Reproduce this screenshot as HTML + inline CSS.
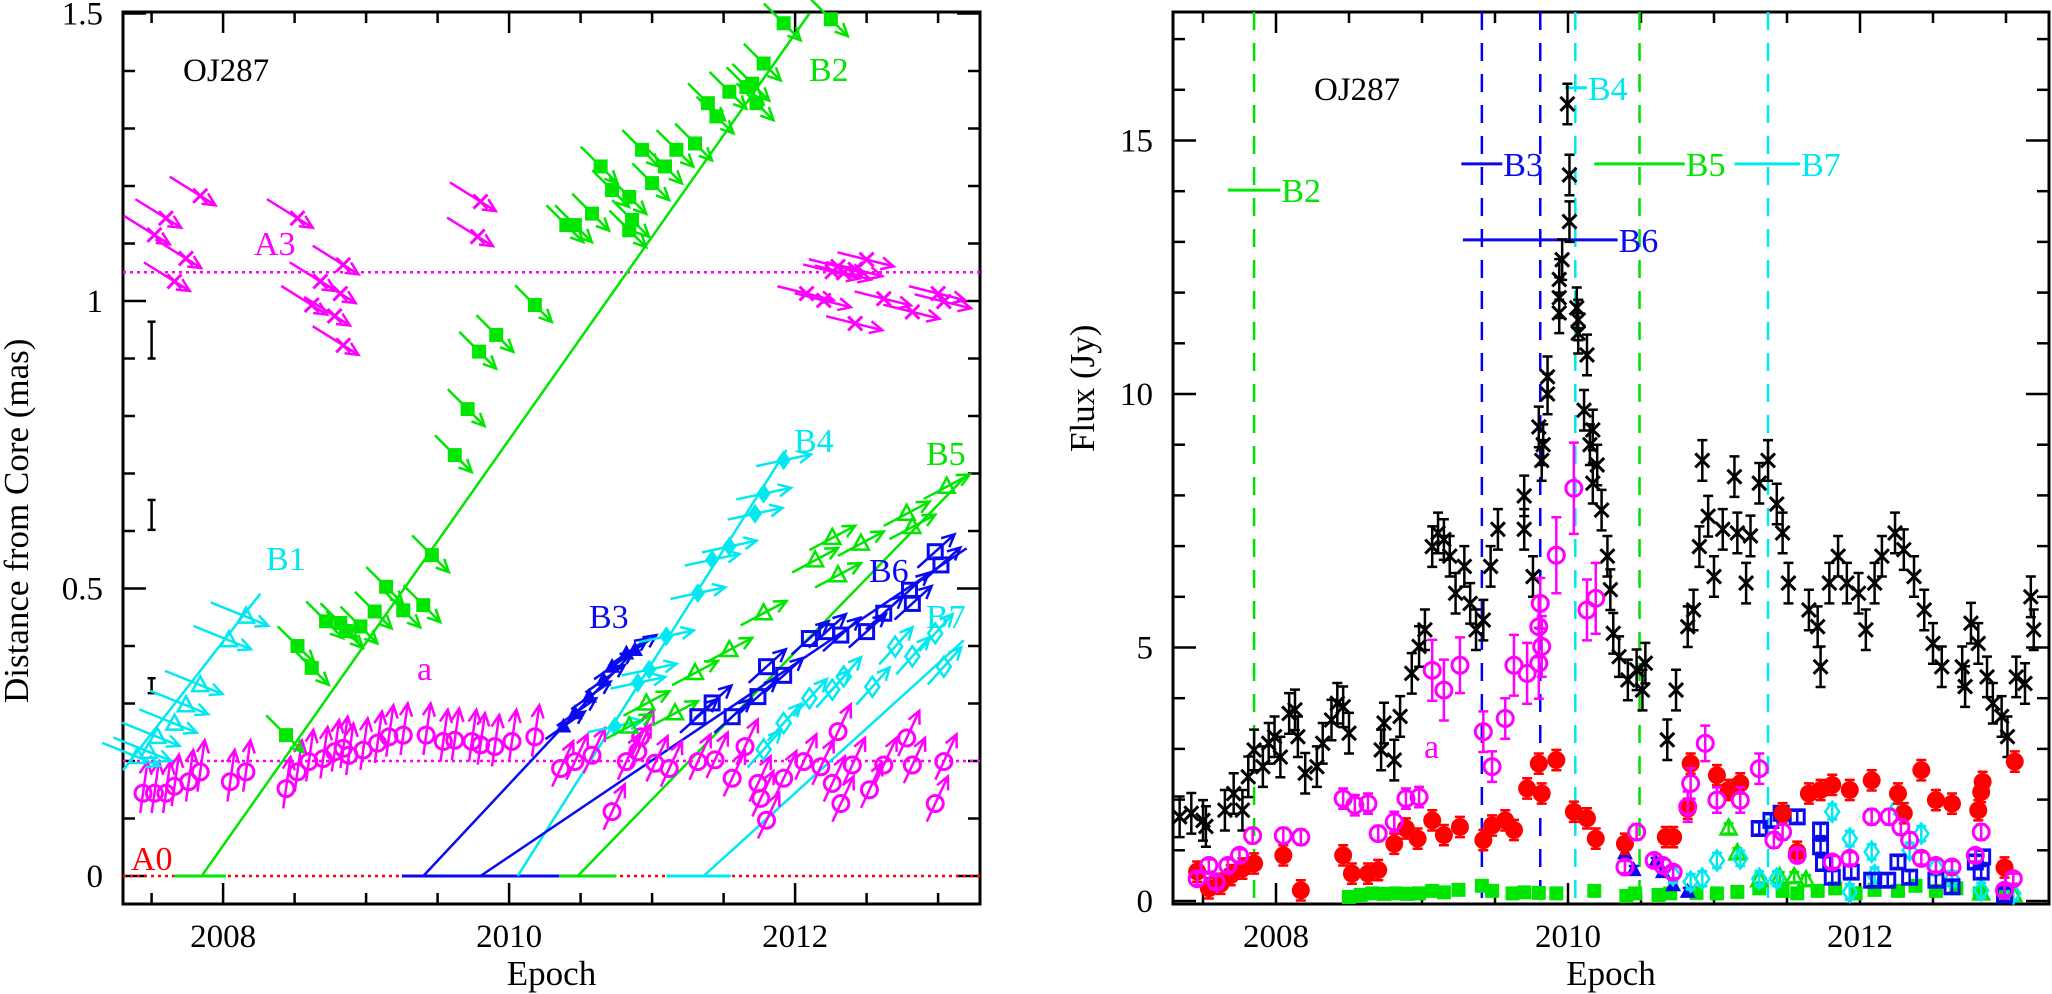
<!DOCTYPE html>
<html><head><meta charset="utf-8"><style>
html,body{margin:0;padding:0;background:#fff;}
svg{display:block;font-family:"Liberation Serif",serif;}
</style></head><body>
<svg id="fig" width="2052" height="994" viewBox="0 0 2052 994" xmlns="http://www.w3.org/2000/svg">
<rect x="0" y="0" width="2052" height="994" fill="#fff"/>
<g id="left"></g>
<g id="right"></g>
</svg>
<script>
// ---------- LEFT PANEL DATA (epoch, distance mas) ----------
const A3a_t=[2007.84,2007.60,2007.52,2007.74,2007.66,2008.52,2008.84,2008.68,2008.82,2008.62,2008.78,2008.84,2009.80,2009.78];
const A3a_d=[1.183,1.144,1.115,1.074,1.034,1.144,1.063,1.034,1.013,0.993,0.974,0.923,1.173,1.112];
const A3b_t=[2012.30,2012.34,2012.42,2012.50,2012.26,2012.08,2012.20,2012.62,2012.82,2013.00,2013.04,2012.42];
const A3b_d=[1.060,1.049,1.055,1.072,1.051,1.013,1.001,1.004,0.981,1.013,0.999,0.961];
const B2_t=[2012.25,2011.92,2011.78,2011.70,2011.66,2011.54,2011.73,2011.39,2011.45,2011.30,2011.17,2010.93,2011.09,2010.64,2011.00,2010.72,2010.84,2010.58,2010.40,2010.46,2010.86,2010.84,2010.18,2009.91,2009.79,2009.71,2009.62,2009.46,2009.14,2009.06,2009.26,2009.40,2008.96,2008.82,2008.72,2008.86,2008.52,2008.62,2008.44];
const B2_d=[1.49,1.483,1.413,1.378,1.372,1.364,1.344,1.344,1.321,1.274,1.263,1.263,1.234,1.234,1.205,1.193,1.181,1.152,1.132,1.132,1.141,1.123,0.993,0.941,0.912,0.812,0.732,0.558,0.503,0.460,0.462,0.471,0.434,0.440,0.443,0.426,0.400,0.362,0.245];
const B1_t=[2008.16,2008.04,2007.84,2007.74,2007.66,2007.54,2007.48,2007.40];
const B1_d=[0.451,0.410,0.332,0.297,0.265,0.242,0.216,0.207];
const aE_t=[2007.44,2007.52,2007.60,2007.66,2007.76,2007.84,2008.05,2008.16,2008.44,2008.52,2008.60,2008.70,2008.78,2008.84,2008.88,2008.98,2009.08,2009.16,2009.26,2009.42,2009.54,2009.62,2009.74,2009.80,2009.90,2010.02,2010.18];
const aE_d=[0.144,0.144,0.144,0.156,0.164,0.181,0.164,0.181,0.152,0.181,0.199,0.204,0.216,0.222,0.210,0.219,0.231,0.242,0.245,0.245,0.234,0.236,0.234,0.228,0.225,0.234,0.242];
const aL_t=[2010.36,2010.46,2010.58,2010.72,2010.82,2010.90,2010.92,2011.02,2011.12,2011.32,2011.44,2011.56,2011.65,2011.74,2011.76,2011.80,2011.92,2012.06,2012.18,2012.26,2012.30,2012.32,2012.40,2012.52,2012.62,2012.78,2012.82,2012.98,2013.04];
const aL_d=[0.187,0.199,0.210,0.112,0.199,0.216,0.242,0.196,0.187,0.199,0.202,0.170,0.225,0.161,0.135,0.097,0.170,0.199,0.190,0.161,0.251,0.126,0.193,0.150,0.193,0.240,0.193,0.126,0.199];
const B3_t=[2010.38,2010.46,2010.56,2010.66,2010.72,2010.82,2010.88];
const B3_d=[0.260,0.283,0.312,0.341,0.364,0.387,0.393];
const B4_t=[2011.92,2011.78,2011.72,2011.54,2011.42,2011.32,2011.10,2010.98,2010.90,2010.74];
const B4_d=[0.723,0.665,0.630,0.573,0.550,0.492,0.417,0.359,0.336,0.260];
const B5_t=[2013.06,2012.78,2012.82,2012.46,2012.26,2012.14,2012.30,2011.78,2011.54,2011.30,2011.16,2010.96,2010.84];
const B5_d=[0.677,0.630,0.607,0.578,0.588,0.549,0.523,0.457,0.393,0.353,0.283,0.30,0.26];
const B6_t=[2013.02,2012.98,2012.80,2012.82,2012.62,2012.50,2012.32,2012.22,2012.10,2011.92,2011.80,2011.74,2011.56,2011.42,2011.32];
const B6_d=[0.541,0.564,0.497,0.474,0.457,0.425,0.419,0.425,0.413,0.349,0.364,0.312,0.277,0.301,0.277];
const B7_t=[2013.04,2012.98,2012.82,2012.70,2012.54,2012.34,2012.26,2012.10,2011.92,2011.78];
const B7_d=[0.364,0.422,0.382,0.399,0.329,0.347,0.324,0.309,0.266,0.220];
const fitNames=['B1','B2','B3','B4','B5','B6','B7'];
const fitT0=[2007.30,2007.85,2009.40,2010.06,2010.48,2009.80,2011.36];
const fitD0=[0.184,0,0,0,0,0,0];
const fitT1=[2008.26,2012.10,2010.92,2011.94,2013.20,2013.20,2013.18];
const fitD1=[0.491,1.50,0.404,0.741,0.697,0.570,0.410];
const zeroSegT0=[2007.66,2009.25,2010.35,2011.10];
const zeroSegT1=[2008.02,2010.35,2010.75,2011.55];
const errBarT=[2007.5,2007.5,2007.5];
const errBarLo=[0.900,0.602,0.318];
const errBarHi=[0.964,0.654,0.344];
const leftYTicks=['0','0.5','1','1.5'];
const xTickLabels=['2008','2010','2012'];

// ---------- RIGHT PANEL DATA (epoch, flux Jy) ----------
const blkT=[2007.34,2007.42,2007.50,2007.52,2007.65,2007.71,2007.77,2007.81,2007.85,2007.91,2007.95,2007.99,2008.03,2008.09,2008.13,2008.15,2008.20,2008.28,2008.32,2008.38,2008.42,2008.46,2008.50,2008.72,2008.74,2008.81,2008.85,2008.93,2008.98,2009.02,2009.07,2009.11,2009.15,2009.19,2009.23,2009.29,2009.33,2009.37,2009.42,2009.47,2009.52,2009.70,2009.76,2009.70,2009.80,2009.82,2009.83,2009.86,2009.86,2009.94,2009.94,2009.94,2009.96,2009.996,2010.01,2010.01,2010.06,2010.07,2010.07,2010.11,2010.13,2010.15,2010.17,2010.17,2010.20,2010.23,2010.27,2010.29,2010.31,2010.35,2010.41,2010.47,2010.51,2010.53,2010.68,2010.74,2010.82,2010.86,2010.90,2010.92,2010.96,2011.00,2011.06,2011.14,2011.16,2011.22,2011.25,2011.31,2011.37,2011.43,2011.47,2011.51,2011.65,2011.71,2011.73,2011.79,2011.85,2011.91,2011.99,2012.04,2012.10,2012.15,2012.24,2012.30,2012.37,2012.44,2012.50,2012.56,2012.70,2012.72,2012.76,2012.81,2012.87,2012.91,2012.97,2013.01,2013.07,2013.13,2013.17,2013.19];
const blkF=[1.66,1.73,1.59,1.47,1.79,2.12,1.79,2.45,2.98,2.65,3.11,3.24,2.84,3.70,3.77,3.24,2.52,2.65,3.11,3.57,3.90,3.83,3.31,2.98,3.51,2.78,3.64,4.49,5.02,5.35,6.99,7.26,7.13,6.80,6.07,6.60,5.87,5.35,5.54,6.60,7.33,7.33,6.40,7.99,9.35,8.69,9.0,10.34,10.0,12.26,11.9,11.6,12.65,15.72,14.32,13.4,11.7,11.46,11.2,9.68,10.77,9.0,9.29,8.24,8.6,7.71,6.80,6.14,5.28,4.82,4.36,4.56,4.16,4.69,3.18,4.16,5.41,5.74,6.99,8.69,7.59,6.40,7.33,8.37,7.26,6.27,7.20,8.24,8.69,7.83,7.26,6.27,5.74,5.41,4.62,6.27,6.80,6.27,6.07,5.35,6.27,6.80,7.26,6.93,6.40,5.74,5.08,4.62,4.62,4.23,5.48,5.08,4.42,3.90,3.64,3.24,4.42,4.29,6.00,5.35];
const aT=[2007.46,2007.54,2007.59,2007.67,2007.75,2007.84,2008.05,2008.17,2008.46,2008.54,2008.63,2008.70,2008.81,2008.89,2008.98,2009.07,2009.15,2009.26,2009.42,2009.48,2009.57,2009.63,2009.72,2009.80,2009.82,2009.80,2009.81,2009.92,2010.04,2010.13,2010.19,2010.47,2010.39,2010.59,2010.65,2010.72,2010.84,2010.82,2010.94,2011.02,2011.18,2011.31,2011.41,2011.47,2011.57,2011.81,2011.93,2012.08,2012.20,2012.28,2012.34,2012.42,2012.52,2012.63,2012.79,2012.83,2012.99,2013.05];
const aF=[0.44,0.70,0.37,0.70,0.90,1.29,1.29,1.26,2.02,1.89,1.92,1.33,1.56,2.02,2.05,4.55,4.16,4.65,3.34,2.65,3.60,4.65,4.49,4.69,5.02,5.41,5.87,6.82,8.14,5.74,5.97,1.36,0.67,0.80,0.70,0.57,2.32,1.86,3.11,1.99,1.99,2.61,1.20,1.36,0.90,0.77,0.84,1.66,1.66,1.46,1.20,0.84,0.70,0.67,0.90,1.36,0.21,0.44];
const aErr=[0.12,0.12,0.12,0.12,0.12,0.15,0.15,0.15,0.2,0.2,0.2,0.15,0.2,0.2,0.2,0.6,0.6,0.55,0.4,0.3,0.4,0.6,0.6,0.7,0.6,0.6,0.5,0.75,0.9,0.6,0.7,0.15,0.12,0.12,0.12,0.12,0.3,0.3,0.35,0.25,0.25,0.3,0.15,0.15,0.12,0.12,0.12,0.15,0.15,0.15,0.15,0.12,0.12,0.12,0.12,0.15,0.1,0.1];
const rT=[2007.46,2007.54,2007.62,2007.69,2007.77,2007.85,2008.05,2008.17,2008.46,2008.52,2008.63,2008.70,2008.81,2008.89,2008.97,2009.07,2009.15,2009.26,2009.42,2009.48,2009.57,2009.63,2009.72,2009.80,2009.82,2009.92,2010.04,2010.13,2010.19,2010.39,2010.67,2010.72,2010.82,2010.84,2011.02,2011.10,2011.18,2011.47,2011.57,2011.65,2011.73,2011.81,2011.93,2012.08,2012.26,2012.30,2012.42,2012.52,2012.63,2012.81,2012.83,2012.84,2012.99,2013.06];
const rF=[0.58,0.25,0.34,0.51,0.64,0.74,0.90,0.21,0.90,0.54,0.54,0.61,1.13,1.43,1.23,1.59,1.30,1.46,1.20,1.49,1.59,1.40,2.22,2.71,2.12,2.78,1.76,1.63,1.23,1.13,1.26,1.26,1.82,2.71,2.48,2.19,2.32,1.73,0.97,2.12,2.19,2.29,2.19,2.38,2.12,1.73,2.58,1.99,1.92,1.79,2.15,2.35,0.66,2.75];
const gsT=[2008.50,2008.58,2008.66,2008.74,2008.82,2008.90,2008.98,2009.07,2009.15,2009.25,2009.41,2009.48,2009.62,2009.70,2009.80,2009.92,2010.18,2010.40,2010.46,2010.62,2010.70,2010.88,2011.02,2011.16,2011.31,2011.47,2011.57,2011.71,2011.83,2011.97,2012.10,2012.26,2012.38,2012.52,2012.66,2012.82,2013.0];
const gsF=[0.08,0.12,0.15,0.14,0.15,0.14,0.15,0.2,0.17,0.22,0.3,0.2,0.15,0.17,0.16,0.15,0.2,0.1,0.15,0.12,0.15,0.16,0.15,0.18,0.25,0.2,0.15,0.2,0.25,0.15,0.22,0.2,0.3,0.2,0.25,0.15,0.1];
const bsT=[2011.31,2011.39,2011.46,2011.57,2011.73,2011.73,2011.75,2011.81,2011.94,2012.08,2012.19,2012.26,2012.34,2012.52,2012.63,2012.79,2012.84,2012.83,2012.99];
const bsF=[1.43,1.59,1.73,1.66,1.40,1.07,0.74,0.47,0.57,0.41,0.41,0.77,0.47,0.41,0.28,0.77,0.87,0.57,0.12];
const cdT=[2010.72,2010.84,2010.92,2011.02,2011.18,2011.31,2011.43,2011.81,2011.93,2012.08,2012.10,2012.26,2012.34,2012.42,2012.52,2012.63,2012.83,2013.05,2011.93];
const cdF=[0.51,0.38,0.44,0.80,0.84,0.44,0.44,1.76,1.23,0.97,0.51,1.86,1.00,1.33,0.66,0.44,0.21,0.15,0.18];
const gtT=[2011.10,2011.16,2011.31,2011.45,2011.55,2011.63,2012.83,2013.05];
const gtF=[1.43,0.94,0.41,0.47,0.47,0.41,0.15,0.12];
const btT=[2010.39,2010.45,2010.60,2010.65,2010.72,2010.82];
const btF=[0.94,0.61,0.77,0.57,0.31,0.18];
const vlineT=[2007.85,2009.41,2009.81,2010.05,2010.49,2011.37];
const vlineC=['#00e000','#0000ff','#0000ff','#00e8f0','#00e000','#00e8f0'];
const rangeName=['B2','B3','B4','B5','B6','B7'];
const rangeT0=[2007.67,2009.27,2009.98,2010.18,2009.28,2011.14];
const rangeT1=[2008.03,2009.55,2010.13,2010.80,2010.34,2011.59];
const rangeF=[14.02,14.54,16.04,14.54,13.04,14.54];
const rightYTicks=['0','5','10','15'];

// ---------- helpers ----------
const NS='http://www.w3.org/2000/svg';
const MAG='#ff00ff',GRN='#00e600',CYN='#00e8f0',BLU='#0a0aee',RED='#ff0000';
function mk(tag,attrs,parent){const e=document.createElementNS(NS,tag);for(const k in attrs)e.setAttribute(k,attrs[k]);if(parent)parent.appendChild(e);return e;}
const xL=t=>123+(t-2007.3)*143;
const yL=d=>876-d*575;
const xR=t=>1568+(t-2010)*146;
const yR=f=>901-f*50.7;
const LP=document.getElementById('left');
const RP=document.getElementById('right');

function marker(g,type,x,y,c){
  const s=8;
  if(type==='circle')mk('circle',{cx:x,cy:y,r:s,fill:'none',stroke:c,'stroke-width':3},g);
  else if(type==='fcircle')mk('circle',{cx:x,cy:y,r:s+1,fill:c},g);
  else if(type==='fsquare')mk('rect',{x:x-7,y:y-7,width:14,height:14,fill:c},g);
  else if(type==='square')mk('rect',{x:x-7,y:y-7,width:14,height:14,fill:'none',stroke:c,'stroke-width':3},g);
  else if(type==='x'){mk('path',{d:`M${x-7} ${y-7}L${x+7} ${y+7}M${x+7} ${y-7}L${x-7} ${y+7}`,stroke:c,'stroke-width':3,fill:'none'},g);}
  else if(type==='ftri')mk('path',{d:`M${x} ${y-9}L${x+8} ${y+6}L${x-8} ${y+6}Z`,fill:c},g);
  else if(type==='tri')mk('path',{d:`M${x} ${y-9}L${x+8} ${y+6}L${x-8} ${y+6}Z`,fill:'none',stroke:c,'stroke-width':2.5},g);
  else if(type==='diamond')mk('path',{d:`M${x} ${y-10}L${x+7} ${y}L${x} ${y+10}L${x-7} ${y}Z`,fill:'none',stroke:c,'stroke-width':2.5},g);
  else if(type==='fdiamond')mk('path',{d:`M${x} ${y-10}L${x+7} ${y}L${x} ${y+10}L${x-7} ${y}Z`,fill:c},g);
}
function arrow(g,x,y,ang,tail,head,c){
  const a=ang*Math.PI/180,cs=Math.cos(a),sn=Math.sin(a);
  const x0=x-tail*cs,y0=y-tail*sn,x1=x+head*cs,y1=y+head*sn;
  const h=14,b1=a+Math.PI-0.45,b2=a+Math.PI+0.45;
  mk('path',{d:`M${x0} ${y0}L${x1} ${y1}M${x1+h*Math.cos(b1)} ${y1+h*Math.sin(b1)}L${x1} ${y1}L${x1+h*Math.cos(b2)} ${y1+h*Math.sin(b2)}`,stroke:c,'stroke-width':2.5,fill:'none','stroke-linejoin':'miter'},g);
}
function frame(parent,x0,y0,x1,y1,name){
  const r=mk('rect',{x:x0,y:y0,width:x1-x0,height:y1-y0,fill:'none',stroke:'#000','stroke-width':3},parent);
  
  
}
function label(parent,txt,x,y,c,size,anchor,name){
  const t=mk('text',{x:x,y:y,fill:c,'font-size':size,'text-anchor':anchor||'start'},parent);
  t.textContent=txt;
  
  
  return t;
}

// ---------- LEFT PANEL ----------
(function(){
  const L0=123,L1=980,T=12,B=904;
  const tg=mk('g',{stroke:'#000','stroke-width':2.5},LP);
  
  
  for(let i=0;i<=11;i++){const yr=2007.5+i*0.5;const x=xL(yr);const maj=(yr%2===0);const len=maj?21:11;
    mk('line',{x1:x,y1:B,x2:x,y2:B-len},tg);mk('line',{x1:x,y1:T,x2:x,y2:T+len},tg);}
  for(let i=0;i<=15;i++){const y=yL(i/10);const len=(i%5===0)?23:12;
    mk('line',{x1:L0,y1:y,x2:L0+len,y2:y},tg);mk('line',{x1:L1,y1:y,x2:L1-len,y2:y},tg);}
  frame(LP,L0,T,L1,B,'left-plot-frame');
  leftYTicks.forEach((s,i)=>{label(LP,s,103,yL(i*0.5)+11,'#000',33,'end','left-y-tick-label');});
  xTickLabels.forEach(s=>{label(LP,s,xL(+s),947,'#000',33,'middle','left-x-tick-label');});
  label(LP,'Epoch',(L0+L1)/2,985,'#000',35,'middle','left-x-axis-title');
  const yt=label(LP,'Distance from Core (mas)',0,0,'#000',35,'start','left-y-axis-title');
  yt.setAttribute('transform','translate(28,703) rotate(-90)');
  const ref=mk('g',{},LP);
  
  
  mk('line',{x1:L0,y1:yL(1.05),x2:L1,y2:yL(1.05),stroke:MAG,'stroke-width':2.5,'stroke-dasharray':'3 4'},ref);
  mk('line',{x1:L0,y1:yL(0.2),x2:L1,y2:yL(0.2),stroke:MAG,'stroke-width':2.5,'stroke-dasharray':'3 4'},ref);
  mk('line',{x1:L0,y1:yL(0),x2:L1,y2:yL(0),stroke:RED,'stroke-width':2.5,'stroke-dasharray':'3 4'},ref);
  const segC=[GRN,BLU,GRN,CYN];
  zeroSegT0.forEach((t0,i)=>{mk('line',{x1:xL(t0),y1:yL(0),x2:xL(zeroSegT1[i]),y2:yL(0),stroke:segC[i],'stroke-width':3},ref);});
  const fitC=[CYN,GRN,BLU,CYN,GRN,BLU,CYN];
  fitNames.forEach((n,i)=>{
    const ln=mk('line',{x1:xL(fitT0[i]),y1:yL(fitD0[i]),x2:xL(fitT1[i]),y2:yL(fitD1[i]),stroke:fitC[i],'stroke-width':2.5},LP);
    
    
  });
  errBarT.forEach((t,i)=>{const g=mk('g',{stroke:'#000','stroke-width':2.5},LP);
    
    
    const x=xL(t);mk('line',{x1:x,y1:yL(errBarLo[i]),x2:x,y2:yL(errBarHi[i])},g);
    mk('line',{x1:x-4,y1:yL(errBarLo[i]),x2:x+4,y2:yL(errBarLo[i])},g);mk('line',{x1:x-4,y1:yL(errBarHi[i]),x2:x+4,y2:yL(errBarHi[i])},g);});
  const series=[
    {n:'a3',t:A3a_t,d:A3a_d,c:MAG,m:'x',ang:32,tail:36,head:18},
    {n:'a3',t:A3b_t,d:A3b_d,c:MAG,m:'x',ang:14,tail:30,head:28},
    {n:'a',t:aE_t,d:aE_d,c:MAG,m:'circle',ang:-82,tail:20,head:32},
    {n:'a',t:aL_t,d:aL_d,c:MAG,m:'circle',ang:-65,tail:20,head:30},
    {n:'b1',t:B1_t,d:B1_d,c:CYN,m:'tri',ang:22,tail:38,head:24},
    {n:'b2',t:B2_t,d:B2_d,c:GRN,m:'fsquare',ang:45,tail:28,head:24},
    {n:'b3',t:B3_t,d:B3_d,c:BLU,m:'ftri',ang:-35,tail:22,head:26},
    {n:'b4',t:B4_t,d:B4_d,c:CYN,m:'fdiamond',ang:-12,tail:28,head:28},
    {n:'b5',t:B5_t,d:B5_d,c:GRN,m:'tri',ang:-28,tail:26,head:26},
    {n:'b6',t:B6_t,d:B6_d,c:BLU,m:'square',ang:-42,tail:24,head:26},
    {n:'b7',t:B7_t,d:B7_d,c:CYN,m:'diamond',ang:-48,tail:24,head:26}
  ];
  series.forEach(s=>{
    const sg=mk('g',{},LP);
    
    
    const n=Math.min(s.t.length,s.d.length);
    for(let i=0;i<n;i++){
      const g=mk('g',{},sg);
      
      
      const x=xL(s.t[i]),y=yL(s.d[i]);
      arrow(g,x,y,s.ang,s.tail,s.head,s.c);
      marker(g,s.m,x,y,s.c);
    }
  });
  label(LP,'OJ287',183,81,'#000',33,'start','source-label');
  label(LP,'B2',809,81,GRN,34,'start','label-b2');
  label(LP,'A3',254,255,MAG,34,'start','label-a3');
  label(LP,'B1',266,570,CYN,34,'start','label-b1');
  label(LP,'a',417,680,MAG,34,'start','label-a');
  label(LP,'B3',589,628,BLU,34,'start','label-b3');
  label(LP,'B4',794,452,CYN,34,'start','label-b4');
  label(LP,'B5',926,465,GRN,34,'start','label-b5');
  label(LP,'B6',869,582,BLU,34,'start','label-b6');
  label(LP,'B7',926,628,CYN,34,'start','label-b7');
  label(LP,'A0',131,870,RED,34,'start','label-a0');
})();

// ---------- RIGHT PANEL ----------
(function(){
  const L0=1173,L1=2049,T=12,B=904;
  const tg=mk('g',{stroke:'#000','stroke-width':2.5},RP);
  
  
  for(let i=0;i<=11;i++){const yr=2007.5+i*0.5;const x=xR(yr);const maj=(yr%2===0);const len=maj?21:11;
    mk('line',{x1:x,y1:B,x2:x,y2:B-len},tg);mk('line',{x1:x,y1:T,x2:x,y2:T+len},tg);}
  for(let i=0;i<=17;i++){const y=yR(i);const len=(i%5===0)?23:12;
    mk('line',{x1:L0,y1:y,x2:L0+len,y2:y},tg);mk('line',{x1:L1,y1:y,x2:L1-len,y2:y},tg);}
  frame(RP,L0,T,L1,B,'right-plot-frame');
  rightYTicks.forEach(s=>{label(RP,s,1153,yR(+s)+11,'#000',33,'end','right-y-tick-label');});
  xTickLabels.forEach(s=>{label(RP,s,xR(+s),947,'#000',33,'middle','right-x-tick-label');});
  label(RP,'Epoch',(L0+L1)/2,985,'#000',35,'middle','right-x-axis-title');
  const yt=label(RP,'Flux (Jy)',0,0,'#000',35,'start','right-y-axis-title');
  yt.setAttribute('transform','translate(1094,452) rotate(-90)');
  vlineT.forEach((t,i)=>{const l=mk('line',{x1:xR(t),y1:T,x2:xR(t),y2:B,stroke:vlineC[i],'stroke-width':2.5,'stroke-dasharray':'18 13'},RP);
    
    });
  const rC=[GRN,BLU,CYN,GRN,BLU,CYN];
  rangeName.forEach((n,i)=>{const g=mk('g',{},RP);
    
    
    const y=yR(rangeF[i]);
    mk('line',{x1:xR(rangeT0[i]),y1:y,x2:xR(rangeT1[i]),y2:y,stroke:rC[i],'stroke-width':3},g);
    const t=mk('text',{x:xR(rangeT1[i])+1,y:y+12,fill:rC[i],'font-size':34},g);t.textContent=n;});
  function plotSeries(name,T_,F_,type,c,errArr,errConst){
    const sg=mk('g',{},RP);
    
    
    const n=Math.min(T_.length,F_.length);
    for(let i=0;i<n;i++){
      const g=mk('g',{},sg);
      
      
      const x=xR(T_[i]),y=yR(F_[i]);
      const e=errArr?errArr[i]:errConst;
      if(e){const y0=yR(F_[i]-e),y1=yR(F_[i]+e);
        mk('path',{d:`M${x} ${y0}L${x} ${y1}M${x-5} ${y0}L${x+5} ${y0}M${x-5} ${y1}L${x+5} ${y1}`,stroke:c,'stroke-width':2.5,fill:'none'},g);}
      marker(g,type,x,y,c);
    }
  }
  plotSeries('total-flux',blkT,blkF,'x','#000',null,0.4);
  plotSeries('green-square',gsT,gsF,'fsquare',GRN,null,0);
  plotSeries('blue-triangle',btT,btF,'ftri',BLU,null,0.08);
  plotSeries('green-triangle',gtT,gtF,'tri',GRN,null,0.1);
  plotSeries('cyan-diamond',cdT,cdF,'diamond',CYN,null,0.15);
  plotSeries('blue-square',bsT,bsF,'square',BLU,null,0.12);
  plotSeries('red-core',rT,rF,'fcircle',RED,null,0.2);
  plotSeries('component-a',aT,aF,'circle',MAG,aErr,0);
  label(RP,'OJ287',1314,100,'#000',33,'start','source-label-right');
  label(RP,'a',1424,758,MAG,34,'start','label-a-right');
})();
</script>
</body></html>
